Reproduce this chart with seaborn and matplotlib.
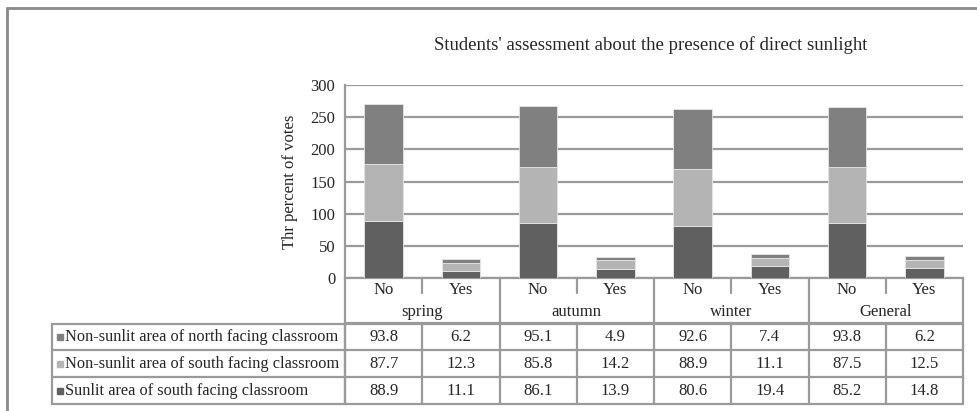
import numpy as np
import pandas as pd
import matplotlib
matplotlib.use("Agg")
import matplotlib.pyplot as plt
import seaborn as sns
from matplotlib.transforms import blended_transform_factory

# data
seasons = ["spring", "autumn", "winter", "General"]
answers = ["No", "Yes"]
series = ["Non-sunlit area of north facing classroom",
          "Non-sunlit area of south facing classroom",
          "Sunlit area of south facing classroom"]
north = [93.8, 6.2, 95.1, 4.9, 92.6, 7.4, 93.8, 6.2]
south = [87.7, 12.3, 85.8, 14.2, 88.9, 11.1, 87.5, 12.5]
sunlit = [88.9, 11.1, 86.1, 13.9, 80.6, 19.4, 85.2, 14.8]
colors = {series[0]: "#808080", series[1]: "#b4b4b4", series[2]: "#606060"}

cats = [f"{s}|{a}" for s in seasons for a in answers]
values = {series[0]: north, series[1]: south, series[2]: sunlit}

sns.set_style("white")
plt.rcParams["font.family"] = ["Liberation Serif", "DejaVu Serif"]
grid_c = "#9a9a9a"
fs = 12

fig = plt.figure(figsize=(9.77, 4.11), dpi=100)
ax = fig.add_axes([345 / 977, 1 - 278 / 411, 618 / 977, 193 / 411])

# stack from the bottom: sunlit, south, north
bottom = np.zeros(len(cats))
for name in [series[2], series[1], series[0]]:
    df = pd.DataFrame({"cat": cats, "val": values[name]})
    sns.barplot(data=df, x="cat", y="val", order=cats, color=colors[name],
                width=0.5, bottom=bottom, saturation=1, ax=ax,
                edgecolor="#e6e6e6", linewidth=0.6, zorder=3)
    bottom = bottom + np.array(values[name])

ax.set_xlim(-0.5, len(cats) - 0.5)
ax.set_ylim(0, 300)
ax.set_yticks(range(0, 301, 50))
ax.yaxis.grid(True, color=grid_c, linewidth=1.6, zorder=0)
ax.set_xticks([])
ax.set_xlabel("")
ax.set_ylabel("Thr percent of votes", fontsize=fs, labelpad=9)
ax.tick_params(axis="y", labelsize=fs, length=4, width=1.6, color=grid_c, pad=3)
for side in ["top", "right"]:
    ax.spines[side].set_visible(False)
for side in ["left", "bottom"]:
    ax.spines[side].set_color(grid_c)
    ax.spines[side].set_linewidth(1.6)

fig.text(651 / 977, 1 - 45 / 411, "Students' assessment about the presence of direct sunlight",
         ha="center", va="center", fontsize=13.5)

# data table below the axes (x in data units, y in figure pixels from top)
tr = blended_transform_factory(ax.transData, fig.transFigure)
trf = fig.transFigure
def fy(py):
    return 1 - py / 411

lw = 1.6
x0, x1 = -0.5, len(cats) - 0.5
lab_left = 52 / 977
lab_right = 345 / 977

# header block
ax.plot([x0, x1], [fy(323)] * 2, transform=tr, color=grid_c, lw=lw, clip_on=False)
for i in range(0, len(cats) + 1, 2):
    ax.plot([x0 + i] * 2, [fy(278), fy(404)], transform=tr, color=grid_c, lw=lw, clip_on=False)
for i in range(1, len(cats), 2):
    ax.plot([x0 + i] * 2, [fy(278), fy(293)], transform=tr, color=grid_c, lw=lw, clip_on=False)
    ax.plot([x0 + i] * 2, [fy(324), fy(404)], transform=tr, color=grid_c, lw=lw, clip_on=False)
for j, a in enumerate(cats):
    ax.text(j, fy(290), a.split("|")[1], transform=tr, ha="center", va="center", fontsize=fs)
for k, s in enumerate(seasons):
    ax.text(2 * k + 0.5, fy(312), s, transform=tr, ha="center", va="center", fontsize=fs)

# data rows
row_lines = [324, 350, 377, 404]
for py in row_lines:
    fig.add_artist(plt.Line2D([lab_left, lab_right], [fy(py)] * 2, color=grid_c, lw=lw))
    ax.plot([x0, x1], [fy(py)] * 2, transform=tr, color=grid_c, lw=lw, clip_on=False)
for px in [lab_left, lab_right]:
    fig.add_artist(plt.Line2D([px, px], [fy(324), fy(404)], color=grid_c, lw=lw))
for r, name in enumerate(series):
    yc = fy((row_lines[r] + row_lines[r + 1]) / 2)
    fig.add_artist(plt.Rectangle((57 / 977, yc - 3 / 411), 6 / 977, 6 / 411,
                                 color=colors[name], transform=trf))
    fig.text(65 / 977, yc, name, ha="left", va="center", fontsize=11.8)
    for j, v in enumerate(values[name]):
        ax.text(j, yc, f"{v:.1f}", transform=tr, ha="center", va="center", fontsize=fs)

# outer frame (left and top edges)
fig.add_artist(plt.Line2D([7 / 977, 7 / 977], [0, fy(8)], color="#8a8a8a", lw=2))
fig.add_artist(plt.Line2D([7 / 977, 1], [fy(8), fy(8)], color="#8a8a8a", lw=2))

fig.savefig("out.png", dpi=100)
